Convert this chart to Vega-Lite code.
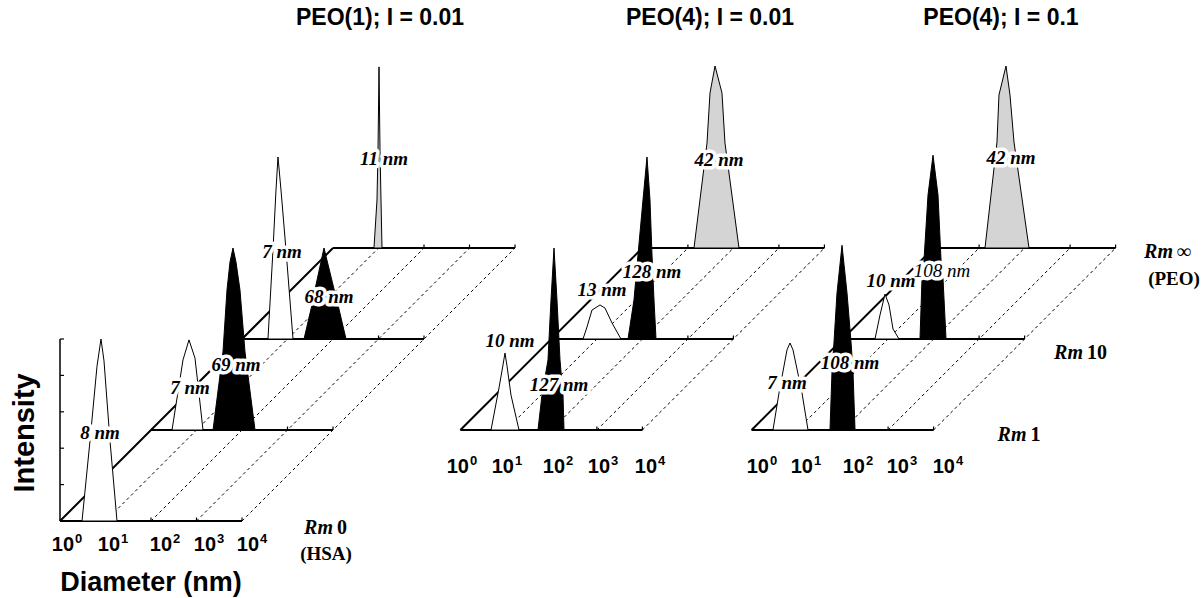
{
  "$schema": "https://vega.github.io/schema/vega-lite/v6.json",
  "width": 1202,
  "height": 598,
  "autosize": "none",
  "padding": 0,
  "background": "white",
  "config": {"view": {"stroke": null}},
  "datasets": {
    "grid": [
      {"kind": "base", "pos": 0, "level": 0, "pos2": 4, "level2": 0},
      {"kind": "base", "pos": 2, "level": 50, "pos2": 6, "level2": 50},
      {"kind": "base", "pos": 4, "level": 100, "pos2": 8, "level2": 100},
      {"kind": "base", "pos": 6, "level": 150, "pos2": 10, "level2": 150},
      {"kind": "diag", "pos": 0, "level": 0, "pos2": 6, "level2": 150},
      {"kind": "dash", "pos": 1, "level": 0, "pos2": 7, "level2": 150},
      {"kind": "dash", "pos": 2, "level": 0, "pos2": 8, "level2": 150},
      {"kind": "dash", "pos": 3, "level": 0, "pos2": 9, "level2": 150},
      {"kind": "dash", "pos": 4, "level": 0, "pos2": 10, "level2": 150},
      {"kind": "axis", "pos": 0, "level": 0, "pos2": 0, "level2": 100},
      {"kind": "base", "pos": 8.8, "level": 50, "pos2": 12.8, "level2": 50},
      {"kind": "base", "pos": 10.8, "level": 100, "pos2": 14.8, "level2": 100},
      {"kind": "base", "pos": 12.8, "level": 150, "pos2": 16.8, "level2": 150},
      {"kind": "diag", "pos": 8.8, "level": 50, "pos2": 12.8, "level2": 150},
      {"kind": "dash", "pos": 9.8, "level": 50, "pos2": 13.8, "level2": 150},
      {"kind": "dash", "pos": 10.8, "level": 50, "pos2": 14.8, "level2": 150},
      {"kind": "dash", "pos": 11.8, "level": 50, "pos2": 15.8, "level2": 150},
      {"kind": "dash", "pos": 12.8, "level": 50, "pos2": 16.8, "level2": 150},
      {"kind": "base", "pos": 15.2, "level": 50, "pos2": 19.2, "level2": 50},
      {"kind": "base", "pos": 17.2, "level": 100, "pos2": 21.2, "level2": 100},
      {"kind": "base", "pos": 19.2, "level": 150, "pos2": 23.2, "level2": 150},
      {"kind": "diag", "pos": 15.2, "level": 50, "pos2": 19.2, "level2": 150},
      {"kind": "dash", "pos": 16.2, "level": 50, "pos2": 20.2, "level2": 150},
      {"kind": "dash", "pos": 17.2, "level": 50, "pos2": 21.2, "level2": 150},
      {"kind": "dash", "pos": 18.2, "level": 50, "pos2": 22.2, "level2": 150},
      {"kind": "dash", "pos": 19.2, "level": 50, "pos2": 23.2, "level2": 150}
    ],
    "ticks": [
      {"pos": 1, "level": 0}, {"pos": 2, "level": 0}, {"pos": 3, "level": 0}, {"pos": 4, "level": 0},
      {"pos": 3, "level": 50}, {"pos": 4, "level": 50}, {"pos": 5, "level": 50}, {"pos": 6, "level": 50},
      {"pos": 5, "level": 100}, {"pos": 6, "level": 100}, {"pos": 7, "level": 100}, {"pos": 8, "level": 100},
      {"pos": 7, "level": 150}, {"pos": 8, "level": 150}, {"pos": 9, "level": 150}, {"pos": 10, "level": 150},
      {"pos": 9.8, "level": 50}, {"pos": 10.8, "level": 50}, {"pos": 11.8, "level": 50}, {"pos": 12.8, "level": 50},
      {"pos": 11.8, "level": 100}, {"pos": 12.8, "level": 100}, {"pos": 13.8, "level": 100}, {"pos": 14.8, "level": 100},
      {"pos": 13.8, "level": 150}, {"pos": 14.8, "level": 150}, {"pos": 15.8, "level": 150}, {"pos": 16.8, "level": 150},
      {"pos": 16.2, "level": 50}, {"pos": 17.2, "level": 50}, {"pos": 18.2, "level": 50}, {"pos": 19.2, "level": 50},
      {"pos": 18.2, "level": 100}, {"pos": 19.2, "level": 100}, {"pos": 20.2, "level": 100}, {"pos": 21.2, "level": 100},
      {"pos": 20.2, "level": 150}, {"pos": 21.2, "level": 150}, {"pos": 22.2, "level": 150}, {"pos": 23.2, "level": 150}
    ],
    "yticks": [
      {"pos": 0, "level": 20}, {"pos": 0, "level": 40}, {"pos": 0, "level": 60}, {"pos": 0, "level": 80}, {"pos": 0, "level": 100}
    ],
    "peaks": [
      {"peak": "p1a", "depth": 0, "species": "HSA", "base": 0, "pos": 0.484, "level": 0},
      {"peak": "p1a", "depth": 0, "species": "HSA", "base": 0, "pos": 0.659, "level": 44},
      {"peak": "p1a", "depth": 0, "species": "HSA", "base": 0, "pos": 0.813, "level": 85},
      {"peak": "p1a", "depth": 0, "species": "HSA", "base": 0, "pos": 0.901, "level": 100},
      {"peak": "p1a", "depth": 0, "species": "HSA", "base": 0, "pos": 0.967, "level": 88},
      {"peak": "p1a", "depth": 0, "species": "HSA", "base": 0, "pos": 1.099, "level": 44},
      {"peak": "p1a", "depth": 0, "species": "HSA", "base": 0, "pos": 1.253, "level": 0},

      {"peak": "p1b", "depth": 1, "species": "HSA", "base": 50, "pos": 2.462, "level": 50},
      {"peak": "p1b", "depth": 1, "species": "HSA", "base": 50, "pos": 2.703, "level": 88.5},
      {"peak": "p1b", "depth": 1, "species": "HSA", "base": 50, "pos": 2.835, "level": 99.5},
      {"peak": "p1b", "depth": 1, "species": "HSA", "base": 50, "pos": 2.967, "level": 89.5},
      {"peak": "p1b", "depth": 1, "species": "HSA", "base": 50, "pos": 3.143, "level": 50},

      {"peak": "p1c", "depth": 1, "species": "complex", "base": 50, "pos": 3.363, "level": 50},
      {"peak": "p1c", "depth": 1, "species": "complex", "base": 50, "pos": 3.582, "level": 92.9},
      {"peak": "p1c", "depth": 1, "species": "complex", "base": 50, "pos": 3.670, "level": 126.9},
      {"peak": "p1c", "depth": 1, "species": "complex", "base": 50, "pos": 3.736, "level": 142.3},
      {"peak": "p1c", "depth": 1, "species": "complex", "base": 50, "pos": 3.802, "level": 150},
      {"peak": "p1c", "depth": 1, "species": "complex", "base": 50, "pos": 3.868, "level": 142.3},
      {"peak": "p1c", "depth": 1, "species": "complex", "base": 50, "pos": 3.956, "level": 126.9},
      {"peak": "p1c", "depth": 1, "species": "complex", "base": 50, "pos": 4.066, "level": 92.9},
      {"peak": "p1c", "depth": 1, "species": "complex", "base": 50, "pos": 4.286, "level": 50},

      {"peak": "p1d", "depth": 2, "species": "HSA", "base": 100, "pos": 4.571, "level": 100},
      {"peak": "p1d", "depth": 2, "species": "HSA", "base": 100, "pos": 4.681, "level": 148.9},
      {"peak": "p1d", "depth": 2, "species": "HSA", "base": 100, "pos": 4.747, "level": 181.9},
      {"peak": "p1d", "depth": 2, "species": "HSA", "base": 100, "pos": 4.791, "level": 200},
      {"peak": "p1d", "depth": 2, "species": "HSA", "base": 100, "pos": 4.857, "level": 181.9},
      {"peak": "p1d", "depth": 2, "species": "HSA", "base": 100, "pos": 4.967, "level": 148.9},
      {"peak": "p1d", "depth": 2, "species": "HSA", "base": 100, "pos": 5.121, "level": 100},

      {"peak": "p1e", "depth": 2, "species": "complex", "base": 100, "pos": 5.363, "level": 100},
      {"peak": "p1e", "depth": 2, "species": "complex", "base": 100, "pos": 5.538, "level": 118.7},
      {"peak": "p1e", "depth": 2, "species": "complex", "base": 100, "pos": 5.626, "level": 129.7},
      {"peak": "p1e", "depth": 2, "species": "complex", "base": 100, "pos": 5.802, "level": 150},
      {"peak": "p1e", "depth": 2, "species": "complex", "base": 100, "pos": 6.0, "level": 129.7},
      {"peak": "p1e", "depth": 2, "species": "complex", "base": 100, "pos": 6.110, "level": 118.7},
      {"peak": "p1e", "depth": 2, "species": "complex", "base": 100, "pos": 6.286, "level": 100},

      {"peak": "p1f", "depth": 3, "species": "PEO", "base": 150, "pos": 6.901, "level": 150},
      {"peak": "p1f", "depth": 3, "species": "PEO", "base": 150, "pos": 6.967, "level": 176.4},
      {"peak": "p1f", "depth": 3, "species": "PEO", "base": 150, "pos": 6.989, "level": 203.8},
      {"peak": "p1f", "depth": 3, "species": "PEO", "base": 150, "pos": 7.011, "level": 249.5},
      {"peak": "p1f", "depth": 3, "species": "PEO", "base": 150, "pos": 7.033, "level": 203.8},
      {"peak": "p1f", "depth": 3, "species": "PEO", "base": 150, "pos": 7.055, "level": 176.4},
      {"peak": "p1f", "depth": 3, "species": "PEO", "base": 150, "pos": 7.077, "level": 150},

      {"peak": "p2a", "depth": 1, "species": "HSA", "base": 50, "pos": 9.473, "level": 50},
      {"peak": "p2a", "depth": 1, "species": "HSA", "base": 50, "pos": 9.648, "level": 73.1},
      {"peak": "p2a", "depth": 1, "species": "HSA", "base": 50, "pos": 9.736, "level": 85.7},
      {"peak": "p2a", "depth": 1, "species": "HSA", "base": 50, "pos": 9.780, "level": 92.3},
      {"peak": "p2a", "depth": 1, "species": "HSA", "base": 50, "pos": 9.824, "level": 85.2},
      {"peak": "p2a", "depth": 1, "species": "HSA", "base": 50, "pos": 9.912, "level": 69.2},
      {"peak": "p2a", "depth": 1, "species": "HSA", "base": 50, "pos": 10.088, "level": 50},

      {"peak": "p2b", "depth": 1, "species": "complex", "base": 50, "pos": 10.505, "level": 50},
      {"peak": "p2b", "depth": 1, "species": "complex", "base": 50, "pos": 10.593, "level": 69.2},
      {"peak": "p2b", "depth": 1, "species": "complex", "base": 50, "pos": 10.725, "level": 88.5},
      {"peak": "p2b", "depth": 1, "species": "complex", "base": 50, "pos": 10.791, "level": 121.4},
      {"peak": "p2b", "depth": 1, "species": "complex", "base": 50, "pos": 10.857, "level": 150},
      {"peak": "p2b", "depth": 1, "species": "complex", "base": 50, "pos": 10.923, "level": 121.4},
      {"peak": "p2b", "depth": 1, "species": "complex", "base": 50, "pos": 10.989, "level": 88.5},
      {"peak": "p2b", "depth": 1, "species": "complex", "base": 50, "pos": 11.055, "level": 69.2},
      {"peak": "p2b", "depth": 1, "species": "complex", "base": 50, "pos": 11.077, "level": 50},

      {"peak": "p2c", "depth": 2, "species": "HSA", "base": 100, "pos": 11.495, "level": 100},
      {"peak": "p2c", "depth": 2, "species": "HSA", "base": 100, "pos": 11.582, "level": 106.6},
      {"peak": "p2c", "depth": 2, "species": "HSA", "base": 100, "pos": 11.692, "level": 115.9},
      {"peak": "p2c", "depth": 2, "species": "HSA", "base": 100, "pos": 11.868, "level": 118.7},
      {"peak": "p2c", "depth": 2, "species": "HSA", "base": 100, "pos": 11.978, "level": 117.0},
      {"peak": "p2c", "depth": 2, "species": "HSA", "base": 100, "pos": 12.132, "level": 108.8},
      {"peak": "p2c", "depth": 2, "species": "HSA", "base": 100, "pos": 12.330, "level": 100},

      {"peak": "p2d", "depth": 2, "species": "complex", "base": 100, "pos": 12.484, "level": 100},
      {"peak": "p2d", "depth": 2, "species": "complex", "base": 100, "pos": 12.615, "level": 121.4},
      {"peak": "p2d", "depth": 2, "species": "complex", "base": 100, "pos": 12.703, "level": 146.2},
      {"peak": "p2d", "depth": 2, "species": "complex", "base": 100, "pos": 12.813, "level": 176.4},
      {"peak": "p2d", "depth": 2, "species": "complex", "base": 100, "pos": 12.901, "level": 200},
      {"peak": "p2d", "depth": 2, "species": "complex", "base": 100, "pos": 12.967, "level": 176.4},
      {"peak": "p2d", "depth": 2, "species": "complex", "base": 100, "pos": 13.011, "level": 146.2},
      {"peak": "p2d", "depth": 2, "species": "complex", "base": 100, "pos": 13.055, "level": 121.4},
      {"peak": "p2d", "depth": 2, "species": "complex", "base": 100, "pos": 13.099, "level": 100},

      {"peak": "p2e", "depth": 3, "species": "PEO", "base": 150, "pos": 13.934, "level": 150},
      {"peak": "p2e", "depth": 3, "species": "PEO", "base": 150, "pos": 14.220, "level": 207.7},
      {"peak": "p2e", "depth": 3, "species": "PEO", "base": 150, "pos": 14.286, "level": 235.2},
      {"peak": "p2e", "depth": 3, "species": "PEO", "base": 150, "pos": 14.396, "level": 250},
      {"peak": "p2e", "depth": 3, "species": "PEO", "base": 150, "pos": 14.549, "level": 235.2},
      {"peak": "p2e", "depth": 3, "species": "PEO", "base": 150, "pos": 14.615, "level": 207.7},
      {"peak": "p2e", "depth": 3, "species": "PEO", "base": 150, "pos": 14.923, "level": 150},

      {"peak": "p3a", "depth": 1, "species": "HSA", "base": 50, "pos": 15.670, "level": 50},
      {"peak": "p3a", "depth": 1, "species": "HSA", "base": 50, "pos": 15.802, "level": 70.3},
      {"peak": "p3a", "depth": 1, "species": "HSA", "base": 50, "pos": 15.978, "level": 94},
      {"peak": "p3a", "depth": 1, "species": "HSA", "base": 50, "pos": 16.044, "level": 97.8},
      {"peak": "p3a", "depth": 1, "species": "HSA", "base": 50, "pos": 16.110, "level": 94},
      {"peak": "p3a", "depth": 1, "species": "HSA", "base": 50, "pos": 16.308, "level": 70.3},
      {"peak": "p3a", "depth": 1, "species": "HSA", "base": 50, "pos": 16.440, "level": 50},

      {"peak": "p3b", "depth": 1, "species": "complex", "base": 50, "pos": 16.923, "level": 50},
      {"peak": "p3b", "depth": 1, "species": "complex", "base": 50, "pos": 16.967, "level": 81.9},
      {"peak": "p3b", "depth": 1, "species": "complex", "base": 50, "pos": 17.011, "level": 98.4},
      {"peak": "p3b", "depth": 1, "species": "complex", "base": 50, "pos": 17.077, "level": 125.3},
      {"peak": "p3b", "depth": 1, "species": "complex", "base": 50, "pos": 17.187, "level": 151.5},
      {"peak": "p3b", "depth": 1, "species": "complex", "base": 50, "pos": 17.297, "level": 125.3},
      {"peak": "p3b", "depth": 1, "species": "complex", "base": 50, "pos": 17.385, "level": 98.4},
      {"peak": "p3b", "depth": 1, "species": "complex", "base": 50, "pos": 17.429, "level": 81.9},
      {"peak": "p3b", "depth": 1, "species": "complex", "base": 50, "pos": 17.473, "level": 50},

      {"peak": "p3c", "depth": 2, "species": "HSA", "base": 100, "pos": 17.912, "level": 100},
      {"peak": "p3c", "depth": 2, "species": "HSA", "base": 100, "pos": 18.022, "level": 113.2},
      {"peak": "p3c", "depth": 2, "species": "HSA", "base": 100, "pos": 18.132, "level": 124.7},
      {"peak": "p3c", "depth": 2, "species": "HSA", "base": 100, "pos": 18.220, "level": 118.7},
      {"peak": "p3c", "depth": 2, "species": "HSA", "base": 100, "pos": 18.308, "level": 105.5},
      {"peak": "p3c", "depth": 2, "species": "HSA", "base": 100, "pos": 18.440, "level": 100},

      {"peak": "p3d", "depth": 2, "species": "complex", "base": 100, "pos": 18.901, "level": 100},
      {"peak": "p3d", "depth": 2, "species": "complex", "base": 100, "pos": 18.945, "level": 133},
      {"peak": "p3d", "depth": 2, "species": "complex", "base": 100, "pos": 18.989, "level": 143.4},
      {"peak": "p3d", "depth": 2, "species": "complex", "base": 100, "pos": 19.077, "level": 179.1},
      {"peak": "p3d", "depth": 2, "species": "complex", "base": 100, "pos": 19.187, "level": 201},
      {"peak": "p3d", "depth": 2, "species": "complex", "base": 100, "pos": 19.297, "level": 179.1},
      {"peak": "p3d", "depth": 2, "species": "complex", "base": 100, "pos": 19.363, "level": 143.4},
      {"peak": "p3d", "depth": 2, "species": "complex", "base": 100, "pos": 19.407, "level": 133},
      {"peak": "p3d", "depth": 2, "species": "complex", "base": 100, "pos": 19.473, "level": 100},

      {"peak": "p3e", "depth": 3, "species": "PEO", "base": 150, "pos": 20.330, "level": 150},
      {"peak": "p3e", "depth": 3, "species": "PEO", "base": 150, "pos": 20.593, "level": 208.2},
      {"peak": "p3e", "depth": 3, "species": "PEO", "base": 150, "pos": 20.637, "level": 234.1},
      {"peak": "p3e", "depth": 3, "species": "PEO", "base": 150, "pos": 20.791, "level": 250},
      {"peak": "p3e", "depth": 3, "species": "PEO", "base": 150, "pos": 20.879, "level": 234.1},
      {"peak": "p3e", "depth": 3, "species": "PEO", "base": 150, "pos": 20.967, "level": 208.2},
      {"peak": "p3e", "depth": 3, "species": "PEO", "base": 150, "pos": 21.297, "level": 150}
    ],
    "plabels": [
      {"label": "8 nm", "pos": 0.879, "level": 48.4},
      {"label": "7 nm", "pos": 2.857, "level": 73.1},
      {"label": "69 nm", "pos": 3.868, "level": 85.7},
      {"label": "7 nm", "pos": 4.879, "level": 147.8},
      {"label": "68 nm", "pos": 5.912, "level": 123.1},
      {"label": "11 nm", "pos": 7.121, "level": 198.9},
      {"label": "10 nm", "pos": 9.890, "level": 98.9},
      {"label": "127 nm", "pos": 10.967, "level": 74.7},
      {"label": "13 nm", "pos": 11.912, "level": 126.9},
      {"label": "128 nm", "pos": 13.011, "level": 136.8},
      {"label": "42 nm", "pos": 14.484, "level": 198.4},
      {"label": "7 nm", "pos": 15.978, "level": 75.8},
      {"label": "108 nm", "pos": 17.363, "level": 86.8},
      {"label": "10 nm", "pos": 18.264, "level": 131.9},
      {"label": "42 nm", "pos": 20.901, "level": 199.5}
    ],
    "plabelsLight": [
      {"label": "108 nm", "pos": 19.385, "level": 137.4}
    ],
    "rm": [
      {"num": "0", "pos": 6.044, "level": -3.8},
      {"num": "1", "pos": 21.286, "level": 47.3},
      {"num": "10", "pos": 22.527, "level": 92.3},
      {"num": "∞", "pos": 24.505, "level": 147.8}
    ],
    "rmsub": [
      {"label": "(HSA)", "pos": 5.846, "level": -18.1},
      {"label": "(PEO)", "pos": 24.484, "level": 133.0}
    ],
    "xlabels": [
      {"exp": "0", "pos": 0.308, "level": -13.2},
      {"exp": "1", "pos": 1.319, "level": -13.2},
      {"exp": "2", "pos": 2.462, "level": -13.2},
      {"exp": "3", "pos": 3.429, "level": -13.2},
      {"exp": "4", "pos": 4.374, "level": -13.2},
      {"exp": "0", "pos": 8.989, "level": 29.7},
      {"exp": "1", "pos": 9.978, "level": 29.7},
      {"exp": "2", "pos": 11.099, "level": 29.7},
      {"exp": "3", "pos": 12.088, "level": 29.7},
      {"exp": "4", "pos": 13.121, "level": 29.7},
      {"exp": "0", "pos": 15.582, "level": 29.7},
      {"exp": "1", "pos": 16.549, "level": 29.7},
      {"exp": "2", "pos": 17.692, "level": 29.7},
      {"exp": "3", "pos": 18.659, "level": 29.7},
      {"exp": "4", "pos": 19.670, "level": 29.7}
    ],
    "titles": [
      {"label": "PEO(1); I = 0.01", "pos": 7.033, "level": 276.4},
      {"label": "PEO(4); I = 0.01", "pos": 14.286, "level": 276.4},
      {"label": "PEO(4); I = 0.1", "pos": 20.681, "level": 276.4}
    ]
  },
  "encoding": {
    "x": {"field": "pos", "type": "quantitative", "scale": {"domain": [-1.3187, 25.0989], "nice": false, "zero": false}, "axis": null},
    "y": {"field": "level", "type": "quantitative", "stack": null, "scale": {"domain": [-42.308, 286.264], "nice": false, "zero": false}, "axis": null}
  },
  "layer": [
    {
      "data": {"name": "grid"},
      "transform": [{"filter": {"field": "kind", "equal": "dash"}}],
      "mark": {"type": "rule", "color": "black", "strokeWidth": 1, "strokeDash": [3, 3]},
      "encoding": {"x2": {"field": "pos2"}, "y2": {"field": "level2"}}
    },
    {
      "data": {"name": "grid"},
      "transform": [{"filter": {"field": "kind", "oneOf": ["base", "diag"]}}],
      "mark": {"type": "rule", "color": "black", "strokeWidth": 2},
      "encoding": {"x2": {"field": "pos2"}, "y2": {"field": "level2"}}
    },
    {
      "data": {"name": "grid"},
      "transform": [{"filter": {"field": "kind", "equal": "axis"}}],
      "mark": {"type": "rule", "color": "black", "strokeWidth": 1.5},
      "encoding": {"x2": {"field": "pos2"}, "y2": {"field": "level2"}}
    },
    {
      "data": {"name": "ticks"},
      "mark": {"type": "point", "shape": "M0,0V-1", "size": 49, "filled": false, "stroke": "black", "strokeWidth": 1.2, "opacity": 1}
    },
    {
      "data": {"name": "yticks"},
      "mark": {"type": "point", "shape": "M0,0H1", "size": 64, "filled": false, "stroke": "black", "strokeWidth": 1.2, "opacity": 1}
    },
    {
      "data": {"name": "peaks"},
      "transform": [{"filter": {"field": "depth", "equal": 3}}],
      "mark": {"type": "area", "stroke": "black", "strokeWidth": 1, "fillOpacity": 1, "interpolate": "linear"},
      "encoding": {
        "y2": {"field": "base"},
        "color": {"field": "species", "type": "nominal", "scale": {"domain": ["HSA", "complex", "PEO"], "range": ["#ffffff", "#000000", "#d4d4d4"]}, "legend": null},
        "detail": {"field": "peak"}
      }
    },
    {
      "data": {"name": "peaks"},
      "transform": [{"filter": {"field": "depth", "equal": 2}}],
      "mark": {"type": "area", "stroke": "black", "strokeWidth": 1, "fillOpacity": 1, "interpolate": "linear"},
      "encoding": {
        "y2": {"field": "base"},
        "color": {"field": "species", "type": "nominal", "scale": {"domain": ["HSA", "complex", "PEO"], "range": ["#ffffff", "#000000", "#d4d4d4"]}, "legend": null},
        "detail": {"field": "peak"}
      }
    },
    {
      "data": {"name": "peaks"},
      "transform": [{"filter": {"field": "depth", "equal": 1}}],
      "mark": {"type": "area", "stroke": "black", "strokeWidth": 1, "fillOpacity": 1, "interpolate": "linear"},
      "encoding": {
        "y2": {"field": "base"},
        "color": {"field": "species", "type": "nominal", "scale": {"domain": ["HSA", "complex", "PEO"], "range": ["#ffffff", "#000000", "#d4d4d4"]}, "legend": null},
        "detail": {"field": "peak"}
      }
    },
    {
      "data": {"name": "peaks"},
      "transform": [{"filter": {"field": "depth", "equal": 0}}],
      "mark": {"type": "area", "stroke": "black", "strokeWidth": 1, "fillOpacity": 1, "interpolate": "linear"},
      "encoding": {
        "y2": {"field": "base"},
        "color": {"field": "species", "type": "nominal", "scale": {"domain": ["HSA", "complex", "PEO"], "range": ["#ffffff", "#000000", "#d4d4d4"]}, "legend": null},
        "detail": {"field": "peak"}
      }
    },
    {
      "data": {"name": "plabels"},
      "mark": {"type": "text", "font": "Liberation Serif", "fontSize": 19, "fontStyle": "italic", "fontWeight": "bold", "fill": "white", "stroke": "white", "strokeWidth": 7, "strokeJoin": "round", "baseline": "middle", "align": "center"},
      "encoding": {"text": {"field": "label"}}
    },
    {
      "data": {"name": "plabelsLight"},
      "mark": {"type": "text", "font": "Liberation Serif", "fontSize": 19, "fontStyle": "italic", "fill": "white", "stroke": "white", "strokeWidth": 7, "strokeJoin": "round", "baseline": "middle", "align": "center"},
      "encoding": {"text": {"field": "label"}}
    },
    {
      "data": {"name": "plabels"},
      "mark": {"type": "text", "font": "Liberation Serif", "fontSize": 19, "fontStyle": "italic", "fontWeight": "bold", "color": "black", "baseline": "middle", "align": "center"},
      "encoding": {"text": {"field": "label"}}
    },
    {
      "data": {"name": "plabelsLight"},
      "mark": {"type": "text", "font": "Liberation Serif", "fontSize": 19, "fontStyle": "italic", "color": "black", "baseline": "middle", "align": "center"},
      "encoding": {"text": {"field": "label"}}
    },
    {
      "data": {"name": "rm"},
      "mark": {"type": "text", "font": "Liberation Serif", "fontSize": 20, "fontStyle": "italic", "fontWeight": "bold", "color": "black", "baseline": "middle", "align": "right", "dx": -2},
      "encoding": {"text": {"value": "Rm"}}
    },
    {
      "data": {"name": "rm"},
      "mark": {"type": "text", "font": "Liberation Serif", "fontSize": 20, "fontWeight": "bold", "color": "black", "baseline": "middle", "align": "left", "dx": 2},
      "encoding": {"text": {"field": "num"}}
    },
    {
      "data": {"name": "rmsub"},
      "mark": {"type": "text", "font": "Liberation Serif", "fontSize": 19, "fontWeight": "bold", "color": "black", "baseline": "middle", "align": "center"},
      "encoding": {"text": {"field": "label"}}
    },
    {
      "data": {"name": "xlabels"},
      "mark": {"type": "text", "font": "Liberation Sans", "fontSize": 20, "fontWeight": "bold", "color": "black", "baseline": "middle", "align": "right"},
      "encoding": {"text": {"value": "10"}}
    },
    {
      "data": {"name": "xlabels"},
      "mark": {"type": "text", "font": "Liberation Sans", "fontSize": 13, "fontWeight": "bold", "color": "black", "baseline": "middle", "align": "left", "dx": 1, "dy": -6},
      "encoding": {"text": {"field": "exp"}}
    },
    {
      "data": {"name": "titles"},
      "mark": {"type": "text", "font": "Liberation Sans", "fontSize": 23, "fontWeight": "bold", "color": "black", "baseline": "middle", "align": "center"},
      "encoding": {"text": {"field": "label"}}
    },
    {
      "data": {"values": [{"label": "Diameter (nm)", "pos": 2.0, "level": -33.8}]},
      "mark": {"type": "text", "font": "Liberation Sans", "fontSize": 27, "fontWeight": "bold", "color": "black", "baseline": "middle", "align": "center"},
      "encoding": {"text": {"field": "label"}}
    },
    {
      "data": {"values": [{"label": "Intensity", "pos": -0.769, "level": 48.4}]},
      "mark": {"type": "text", "font": "Liberation Sans", "fontSize": 29, "fontWeight": "bold", "color": "black", "baseline": "middle", "align": "center", "angle": 270},
      "encoding": {"text": {"field": "label"}}
    }
  ]
}
